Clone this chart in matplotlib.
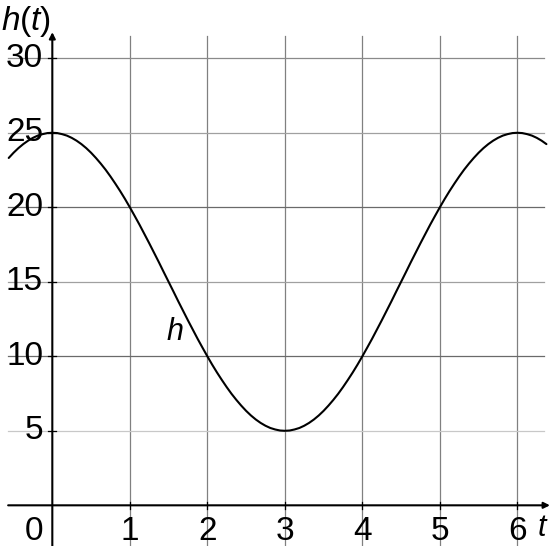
import matplotlib
matplotlib.use('Agg')
import matplotlib.pyplot as plt

plt.rcParams['font.family'] = ['Liberation Sans', 'DejaVu Sans']
plt.rcParams['mathtext.fontset'] = 'custom'
plt.rcParams['mathtext.rm'] = 'Liberation Sans'
plt.rcParams['mathtext.it'] = 'Liberation Sans:italic'

# curve h(t), every 1/16 of a unit
t_vals = [-0.5625, -0.5, -0.4375, -0.375, -0.3125, -0.25, -0.1875, -0.125, -0.0625,
          0.0, 0.0625, 0.125, 0.1875, 0.25, 0.3125, 0.375, 0.4375,
          0.5, 0.5625, 0.625, 0.6875, 0.75, 0.8125, 0.875, 0.9375,
          1.0, 1.0625, 1.125, 1.1875, 1.25, 1.3125, 1.375, 1.4375,
          1.5, 1.5625, 1.625, 1.6875, 1.75, 1.8125, 1.875, 1.9375,
          2.0, 2.0625, 2.125, 2.1875, 2.25, 2.3125, 2.375, 2.4375,
          2.5, 2.5625, 2.625, 2.6875, 2.75, 2.8125, 2.875, 2.9375,
          3.0, 3.0625, 3.125, 3.1875, 3.25, 3.3125, 3.375, 3.4375,
          3.5, 3.5625, 3.625, 3.6875, 3.75, 3.8125, 3.875, 3.9375,
          4.0, 4.0625, 4.125, 4.1875, 4.25, 4.3125, 4.375, 4.4375,
          4.5, 4.5625, 4.625, 4.6875, 4.75, 4.8125, 4.875, 4.9375,
          5.0, 5.0625, 5.125, 5.1875, 5.25, 5.3125, 5.375, 5.4375,
          5.5, 5.5625, 5.625, 5.6875, 5.75, 5.8125, 5.875, 5.9375,
          6.0, 6.0625, 6.125, 6.1875, 6.25, 6.3125, 6.375]
h_vals = [23.31, 23.66, 23.97, 24.24, 24.47, 24.66, 24.81, 24.91, 24.98,
          25.00, 24.98, 24.91, 24.81, 24.66, 24.47, 24.24, 23.97,
          23.66, 23.31, 22.93, 22.52, 22.07, 21.59, 21.09, 20.56,
          20.00, 19.42, 18.83, 18.21, 17.59, 16.95, 16.31, 15.65,
          15.00, 14.35, 13.69, 13.05, 12.41, 11.79, 11.17, 10.58,
          10.00, 9.44, 8.91, 8.41, 7.93, 7.48, 7.07, 6.69,
          6.34, 6.03, 5.76, 5.53, 5.34, 5.19, 5.09, 5.02,
          5.00, 5.02, 5.09, 5.19, 5.34, 5.53, 5.76, 6.03,
          6.34, 6.69, 7.07, 7.48, 7.93, 8.41, 8.91, 9.44,
          10.00, 10.58, 11.17, 11.79, 12.41, 13.05, 13.69, 14.35,
          15.00, 15.65, 16.31, 16.95, 17.59, 18.21, 18.83, 19.42,
          20.00, 20.56, 21.09, 21.59, 22.07, 22.52, 22.93, 23.31,
          23.66, 23.97, 24.24, 24.47, 24.66, 24.81, 24.91, 24.98,
          25.00, 24.98, 24.91, 24.81, 24.66, 24.47, 24.24]

x_ticks = [1, 2, 3, 4, 5, 6]
y_ticks = [5, 10, 15, 20, 25, 30]
y_grid_colors = ['#c8c8c8', '#6a6a6a', '#a0a0a0', '#6a6a6a', '#a0a0a0', '#8a8a8a']

fig = plt.figure(figsize=(5.6, 5.46), dpi=100)
ax = fig.add_axes([0, 0, 1, 1])
ax.set_xlim(-0.675, 6.55)
ax.set_ylim(-2.73, 33.91)
ax.axis('off')

# grid
for x in x_ticks:
    ax.plot([x, x], [-3, 31.5], color='#808080', lw=0.9, zorder=1)
for y, c in zip(y_ticks, y_grid_colors):
    ax.plot([-0.57, 6.35], [y, y], color=c, lw=0.9, zorder=1)

# axes with arrows
ax.annotate('', xy=(6.42, 0), xytext=(-0.57, 0),
            arrowprops=dict(arrowstyle='-|>', mutation_scale=9, lw=1.5,
                            color='black', shrinkA=0, shrinkB=0), zorder=3)
ax.annotate('', xy=(0, 31.75), xytext=(0, -3),
            arrowprops=dict(arrowstyle='-|>', mutation_scale=9, lw=1.5,
                            color='black', shrinkA=0, shrinkB=0), zorder=3)
for x in x_ticks:
    ax.plot([x, x], [-0.25, 0.25], color='black', lw=0.9, zorder=3)
for y in y_ticks:
    ax.plot([-0.05, 0.05], [y, y], color='black', lw=0.9, zorder=3)

# curve
ax.plot(t_vals, h_vals, color='black', lw=1.5, zorder=4,
        solid_joinstyle='round', solid_capstyle='round')

# labels
for x in x_ticks:
    ax.text(x, -1.75, str(x), fontsize=24, ha='center', va='center')
ax.text(-0.23, -1.75, '0', fontsize=24, ha='center', va='center')
for y in y_ticks:
    ax.text(-0.12, y, str(y), fontsize=24, ha='right', va='center')
ax.text(6.33, -1.55, '$t$', fontsize=22, ha='center', va='center')
ax.text(-0.665, 32.45, '$h$($t$)', fontsize=24, ha='left', va='center')
ax.text(1.58, 11.6, '$h$', fontsize=22, ha='center', va='center')

fig.savefig('out.png', dpi=100)
